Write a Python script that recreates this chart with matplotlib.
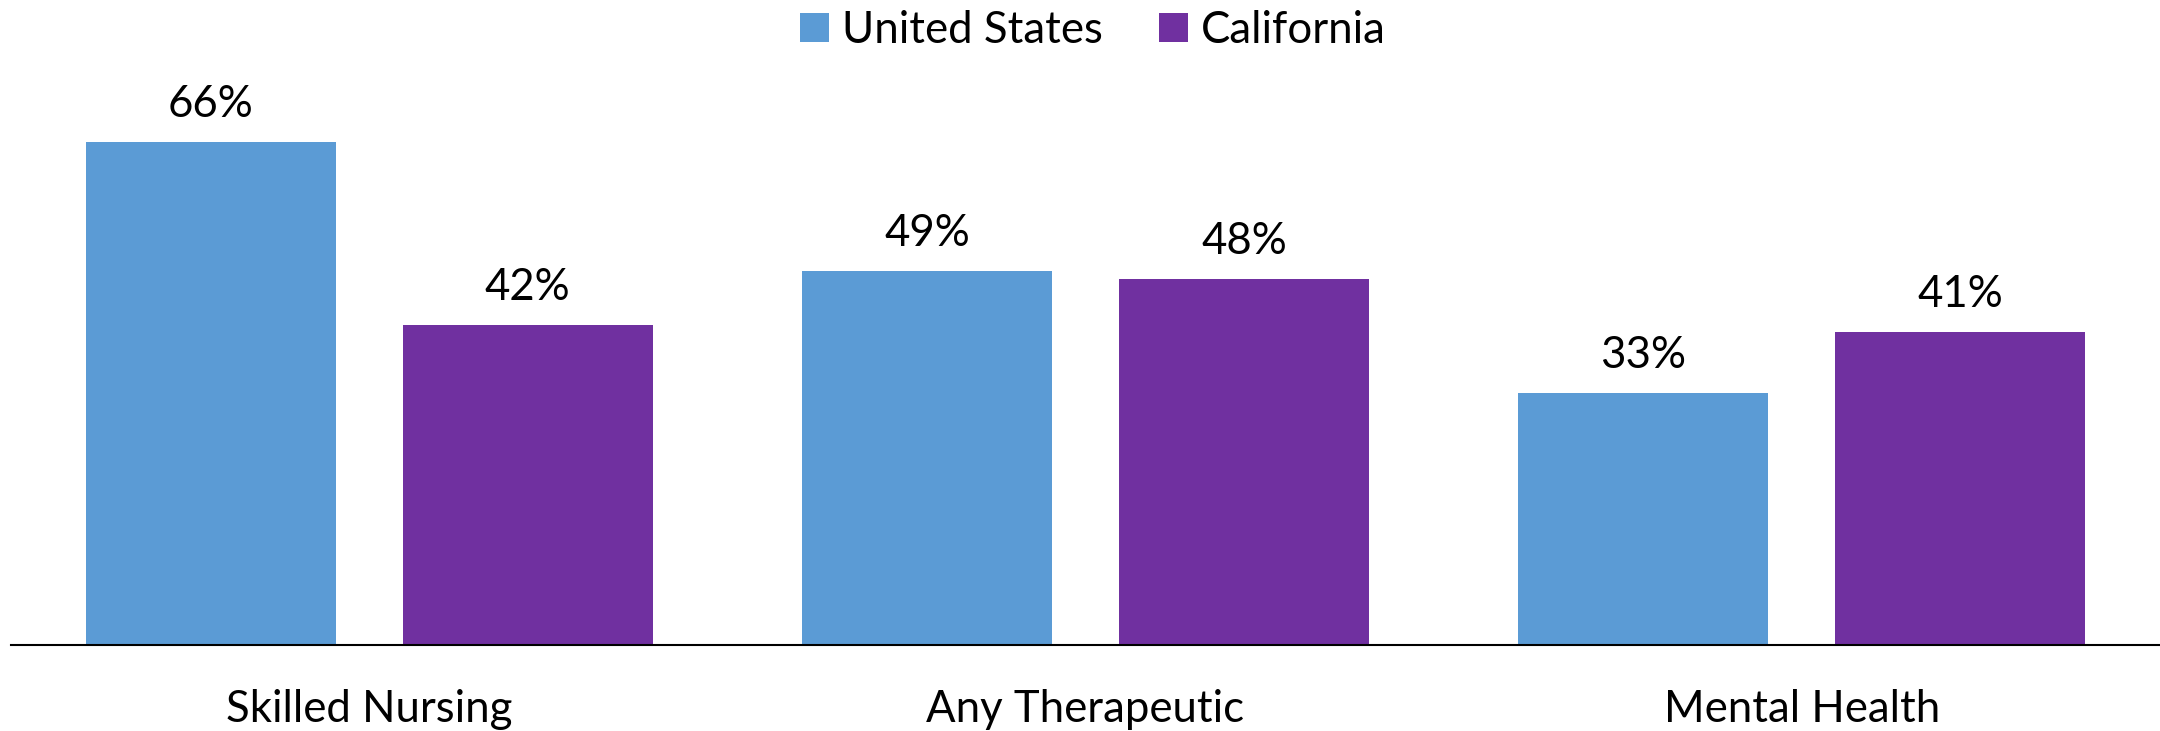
import matplotlib.pyplot as plt
import numpy as np

categories = ["Skilled Nursing", "Any Therapeutic", "Mental Health"]
series_names = ["United States", "California"]
us_values = [66, 49, 33]
ca_values = [42, 48, 41]

US_COLOR = "#5B9BD5"
CA_COLOR = "#7030A0"

plt.rcParams["font.family"] = ["Lato", "DejaVu Sans"]


def main():
    fig = plt.figure(figsize=(21.6, 7.31), dpi=100)
    ax = fig.add_axes([0.0051, 0.118, 0.9949, 0.834])

    x = np.arange(len(categories))
    width = 0.349
    offset = 0.2213

    bars_us = ax.bar(x - offset, us_values, width, color=US_COLOR, label=series_names[0])
    bars_ca = ax.bar(x + offset, ca_values, width, color=CA_COLOR, label=series_names[1])

    for bars in (bars_us, bars_ca):
        for b in bars:
            ax.annotate(
                f"{b.get_height():.0f}%",
                (b.get_x() + b.get_width() / 2, b.get_height()),
                xytext=(0, 27),
                textcoords="offset points",
                ha="center",
                va="center",
                fontsize=31.5,
            )

    ax.set_xlim(-0.5, 2.5)
    ax.set_ylim(0, 80)
    ax.set_xticks(x)
    ax.set_xticklabels(categories, fontsize=31.5)
    ax.tick_params(axis="x", length=0, pad=32)
    ax.set_yticks([])
    for side in ("top", "right", "left"):
        ax.spines[side].set_visible(False)
    ax.spines["bottom"].set_linewidth(1.5)

    fig.legend(
        loc="upper center",
        bbox_to_anchor=(0.506, 1.04),
        ncol=2,
        frameon=False,
        fontsize=31.5,
        handlelength=0.65,
        handleheight=0.65,
        handletextpad=0.3,
        columnspacing=1.3,
    )

    fig.savefig("out.png", dpi=100)


if __name__ == "__main__":
    main()
